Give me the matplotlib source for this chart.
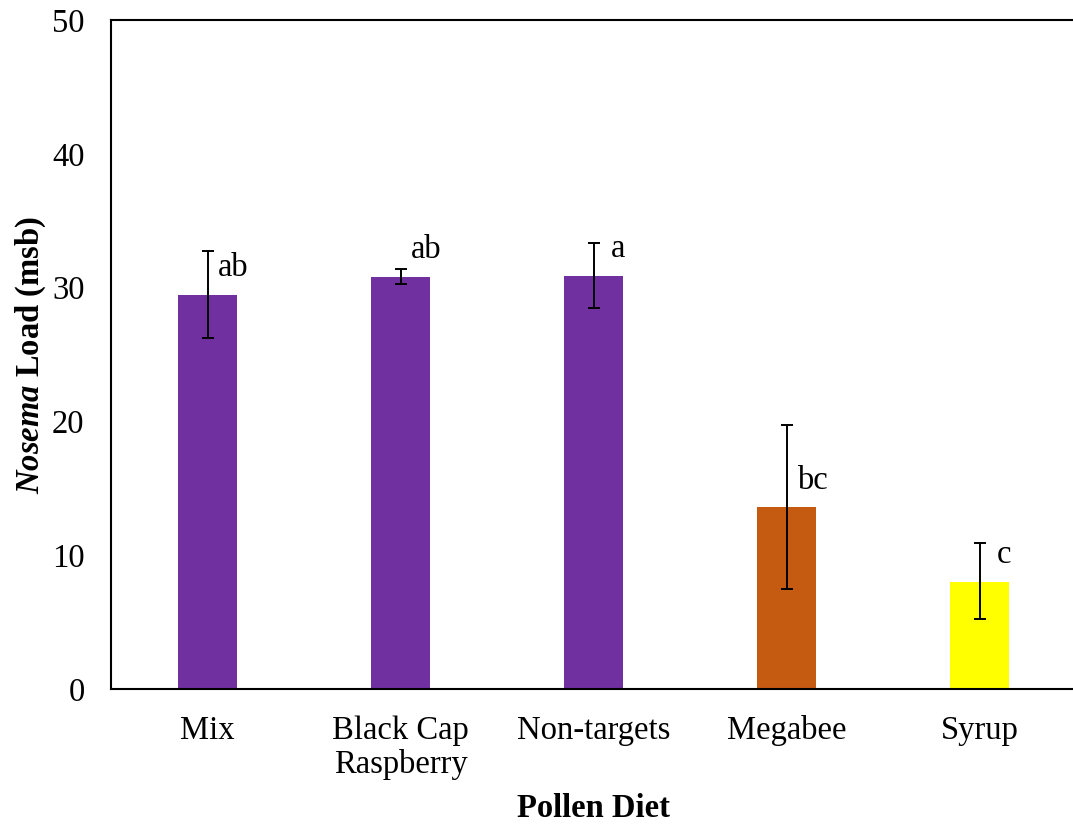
import matplotlib
matplotlib.use("Agg")
import matplotlib.pyplot as plt

plt.rcParams['font.family'] = ['Liberation Serif', 'DejaVu Serif']
plt.rcParams['mathtext.fontset'] = 'custom'
plt.rcParams['mathtext.it'] = 'Liberation Serif:italic:bold'
plt.rcParams['mathtext.rm'] = 'Liberation Serif:bold'
plt.rcParams['mathtext.bf'] = 'Liberation Serif:bold'

# Mean Nosema load per pollen diet, with error bar extents and significance letters
diets = ["Mix", "Black Cap\nRaspberry", "Non-targets", "Megabee", "Syrup"]
loads = [29.45, 30.8, 30.9, 13.6, 8.0]
err_low = [3.25, 0.5, 2.4, 6.1, 2.8]
err_high = [3.25, 0.6, 2.4, 6.1, 2.9]
letters = ["ab", "ab", "a", "bc", "c"]
letter_y = [31.5, 32.8, 32.9, 15.6, 10.0]
letter_dx = [0.055, 0.055, 0.09, 0.055, 0.09]
colors = ["#7030A0", "#7030A0", "#7030A0", "#C55A11", "#FFFF00"]

fig = plt.figure(figsize=(10.73, 8.27), dpi=100)
ax = fig.add_axes([111 / 1073, 1 - 689 / 827, (1076 - 111) / 1073, (689 - 20) / 827])

x = list(range(len(diets)))
ax.bar(x, loads, width=0.31, color=colors, zorder=2)
ax.errorbar(x, loads, yerr=[err_low, err_high], fmt='none', ecolor='black',
            elinewidth=1.4, capsize=4.5, capthick=1.4, zorder=3)

for xi, lab, ly, dx in zip(x, letters, letter_y, letter_dx):
    ax.text(xi + dx, ly, lab, fontsize=23.5, ha='left', va='center')

ax.set_xlim(-0.5, 4.5)
ax.set_ylim(0, 50)
ax.set_yticks([0, 10, 20, 30, 40, 50])
ax.set_xticks(x)
ax.set_xticklabels(diets, fontsize=23.5, linespacing=1.15)
ax.tick_params(axis='both', length=0, labelsize=23.5)
ax.tick_params(axis='x', pad=19)
ax.tick_params(axis='y', pad=19)

for side in ['left', 'bottom', 'top']:
    ax.spines[side].set_linewidth(1.5)
ax.spines['right'].set_visible(False)

ax.set_ylabel(r"$\it{Nosema}$ Load (msb)", fontsize=23.5, fontweight='bold', labelpad=3)
ax.set_xlabel("Pollen Diet", fontsize=23.5, fontweight='bold')
ax.xaxis.set_label_coords(0.5, -0.156)

fig.savefig("out.png", dpi=100)
